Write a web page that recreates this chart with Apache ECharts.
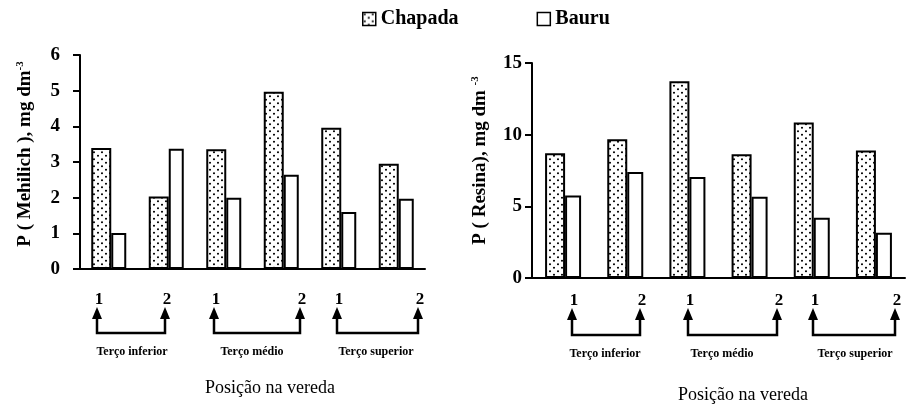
<!DOCTYPE html>
<html>
<head>
<meta charset="utf-8">
<script src="https://cdn.jsdelivr.net/npm/echarts@6/dist/echarts.min.js"></script>
<style>html,body{margin:0;padding:0;background:#fff}#c{width:922px;height:417px}</style>
</head>
<body>
<div id="c"></div>
<script>
// ---- data ----
const categories = ['T.inf 1', 'T.inf 2', 'T.méd 1', 'T.méd 2', 'T.sup 1', 'T.sup 2'];
const mehlichChapada = [3.39, 2.03, 3.36, 4.97, 3.96, 2.95];
const mehlichBauru   = [1.01, 3.37, 2.0, 2.64, 1.6, 1.97];
const resinaChapada  = [8.7, 9.68, 13.72, 8.63, 10.85, 8.89];
const resinaBauru    = [5.76, 7.39, 7.04, 5.67, 4.2, 3.15];
const groupLabels = ['Terço inferior', 'Terço médio', 'Terço superior'];
const pointLabels = ['1', '2'];
const xTitle = 'Posição na vereda';

// ---- styling helpers ----
const FONT = '"Liberation Serif", "DejaVu Serif", serif';
function dotPattern() {
  const c = document.createElement('canvas');
  c.width = 8; c.height = 7;
  const g = c.getContext('2d');
  g.fillStyle = '#fff'; g.fillRect(0, 0, 8, 7);
  g.fillStyle = '#000';
  g.beginPath(); g.arc(2, 1.75, 1.05, 0, Math.PI * 2); g.fill();
  g.beginPath(); g.arc(6, 5.25, 1.05, 0, Math.PI * 2); g.fill();
  return c;
}
const pattern = { image: dotPattern(), repeat: 'repeat' };

const chart = echarts.init(document.getElementById('c'));

function yAxis(gridIndex, max, interval, name, margin, gap, shift) {
  return {
    type: 'value', gridIndex, min: 0, max, interval,
    name, nameLocation: 'middle', nameGap: gap, nameRotate: 90,
    nameTextStyle: {
      padding: [0, 0, 0, shift],
      rich: {
        a: { fontFamily: FONT, fontWeight: 'bold', fontSize: 19, color: '#000' },
        s: { fontFamily: FONT, fontWeight: 'bold', fontSize: 11, color: '#000', verticalAlign: 'top', padding: [0, 0, 9, 0] }
      }
    },
    axisLine: { show: true, lineStyle: { color: '#000', width: 2 } },
    axisTick: { show: true, inside: false, length: 7, lineStyle: { color: '#000', width: 2 } },
    axisLabel: { fontFamily: FONT, fontWeight: 'bold', fontSize: 19, color: '#000', margin },
    splitLine: { show: false }
  };
}
function xAxis(gridIndex) {
  return {
    type: 'category', gridIndex, data: categories,
    axisLine: { show: true, lineStyle: { color: '#000', width: 2 } },
    axisTick: { show: false }, axisLabel: { show: false }
  };
}
function barSeries(name, data, idx, pat, width) {
  return {
    name, type: 'bar', data, xAxisIndex: idx, yAxisIndex: idx,
    barWidth: width, barGap: '0%',
    itemStyle: { color: pat ? pattern : '#fff', borderColor: '#000', borderWidth: 2 },
    emphasis: { disabled: true }
  };
}

// annotation geometry (layout only)
const annot = [
  { arrows: [97, 165, 214, 300, 337, 418], labelX: [132, 252, 376], titleX: 270, titleY: 388, tipY: 307, baseY: 333, labelY: 352 },
  { arrows: [572, 640, 688, 777, 813, 895], labelX: [605, 722, 855], titleX: 743, titleY: 395, tipY: 308, baseY: 335, labelY: 354 }
];
const graphics = [];
annot.forEach(a => {
  for (let g = 0; g < 3; g++) {
    const x1 = a.arrows[2 * g], x2 = a.arrows[2 * g + 1];
    graphics.push({ type: 'polyline', shape: { points: [[x1, a.tipY + 10], [x1, a.baseY], [x2, a.baseY], [x2, a.tipY + 10]] },
      style: { stroke: '#000', lineWidth: 2.5, fill: null } });
    [x1, x2].forEach((x, k) => {
      graphics.push({ type: 'polygon', shape: { points: [[x, a.tipY], [x - 5, a.tipY + 12], [x + 5, a.tipY + 12]] }, style: { fill: '#000' } });
      graphics.push({ type: 'text', x: x + 2, y: a.tipY - 7, style: { text: pointLabels[k], font: 'bold 17px ' + FONT, fill: '#000', align: 'center', verticalAlign: 'middle' } });
    });
    graphics.push({ type: 'text', x: a.labelX[g], y: a.labelY, style: { text: groupLabels[g], font: 'bold 12px ' + FONT, fill: '#000', align: 'center', verticalAlign: 'middle' } });
  }
  graphics.push({ type: 'text', x: a.titleX, y: a.titleY, style: { text: xTitle, font: '18px ' + FONT, fill: '#000', align: 'center', verticalAlign: 'middle' } });
});

chart.setOption({
  animation: false,
  backgroundColor: '#fff',
  legend: {
    top: 4, left: 357, itemGap: 78, itemWidth: 13, itemHeight: 13, icon: 'rect',
    data: ['Chapada', 'Bauru'],
    textStyle: { fontFamily: FONT, fontWeight: 'bold', fontSize: 20, color: '#000' },
    itemStyle: { borderColor: '#000', borderWidth: 1.5 }
  },
  grid: [
    { left: 80, right: 497, top: 55, bottom: 148 },
    { left: 532, right: 17, top: 63, bottom: 139 }
  ],
  xAxis: [xAxis(0), xAxis(1)],
  yAxis: [
    yAxis(0, 6, 1, '{a|P ( Mehilich ), mg dm}{s|-3}', 20, 45, 16),
    yAxis(1, 15, 5, '{a|P ( Resina), mg dm }{s|-3}', 10, 42, 20)
  ],
  series: [
    barSeries('Chapada', mehlichChapada, 0, true, 20),
    barSeries('Bauru', mehlichBauru, 0, false, 15),
    barSeries('Chapada', resinaChapada, 1, true, 20),
    barSeries('Bauru', resinaBauru, 1, false, 16)
  ],
  graphic: graphics
});
</script>
</body>
</html>
